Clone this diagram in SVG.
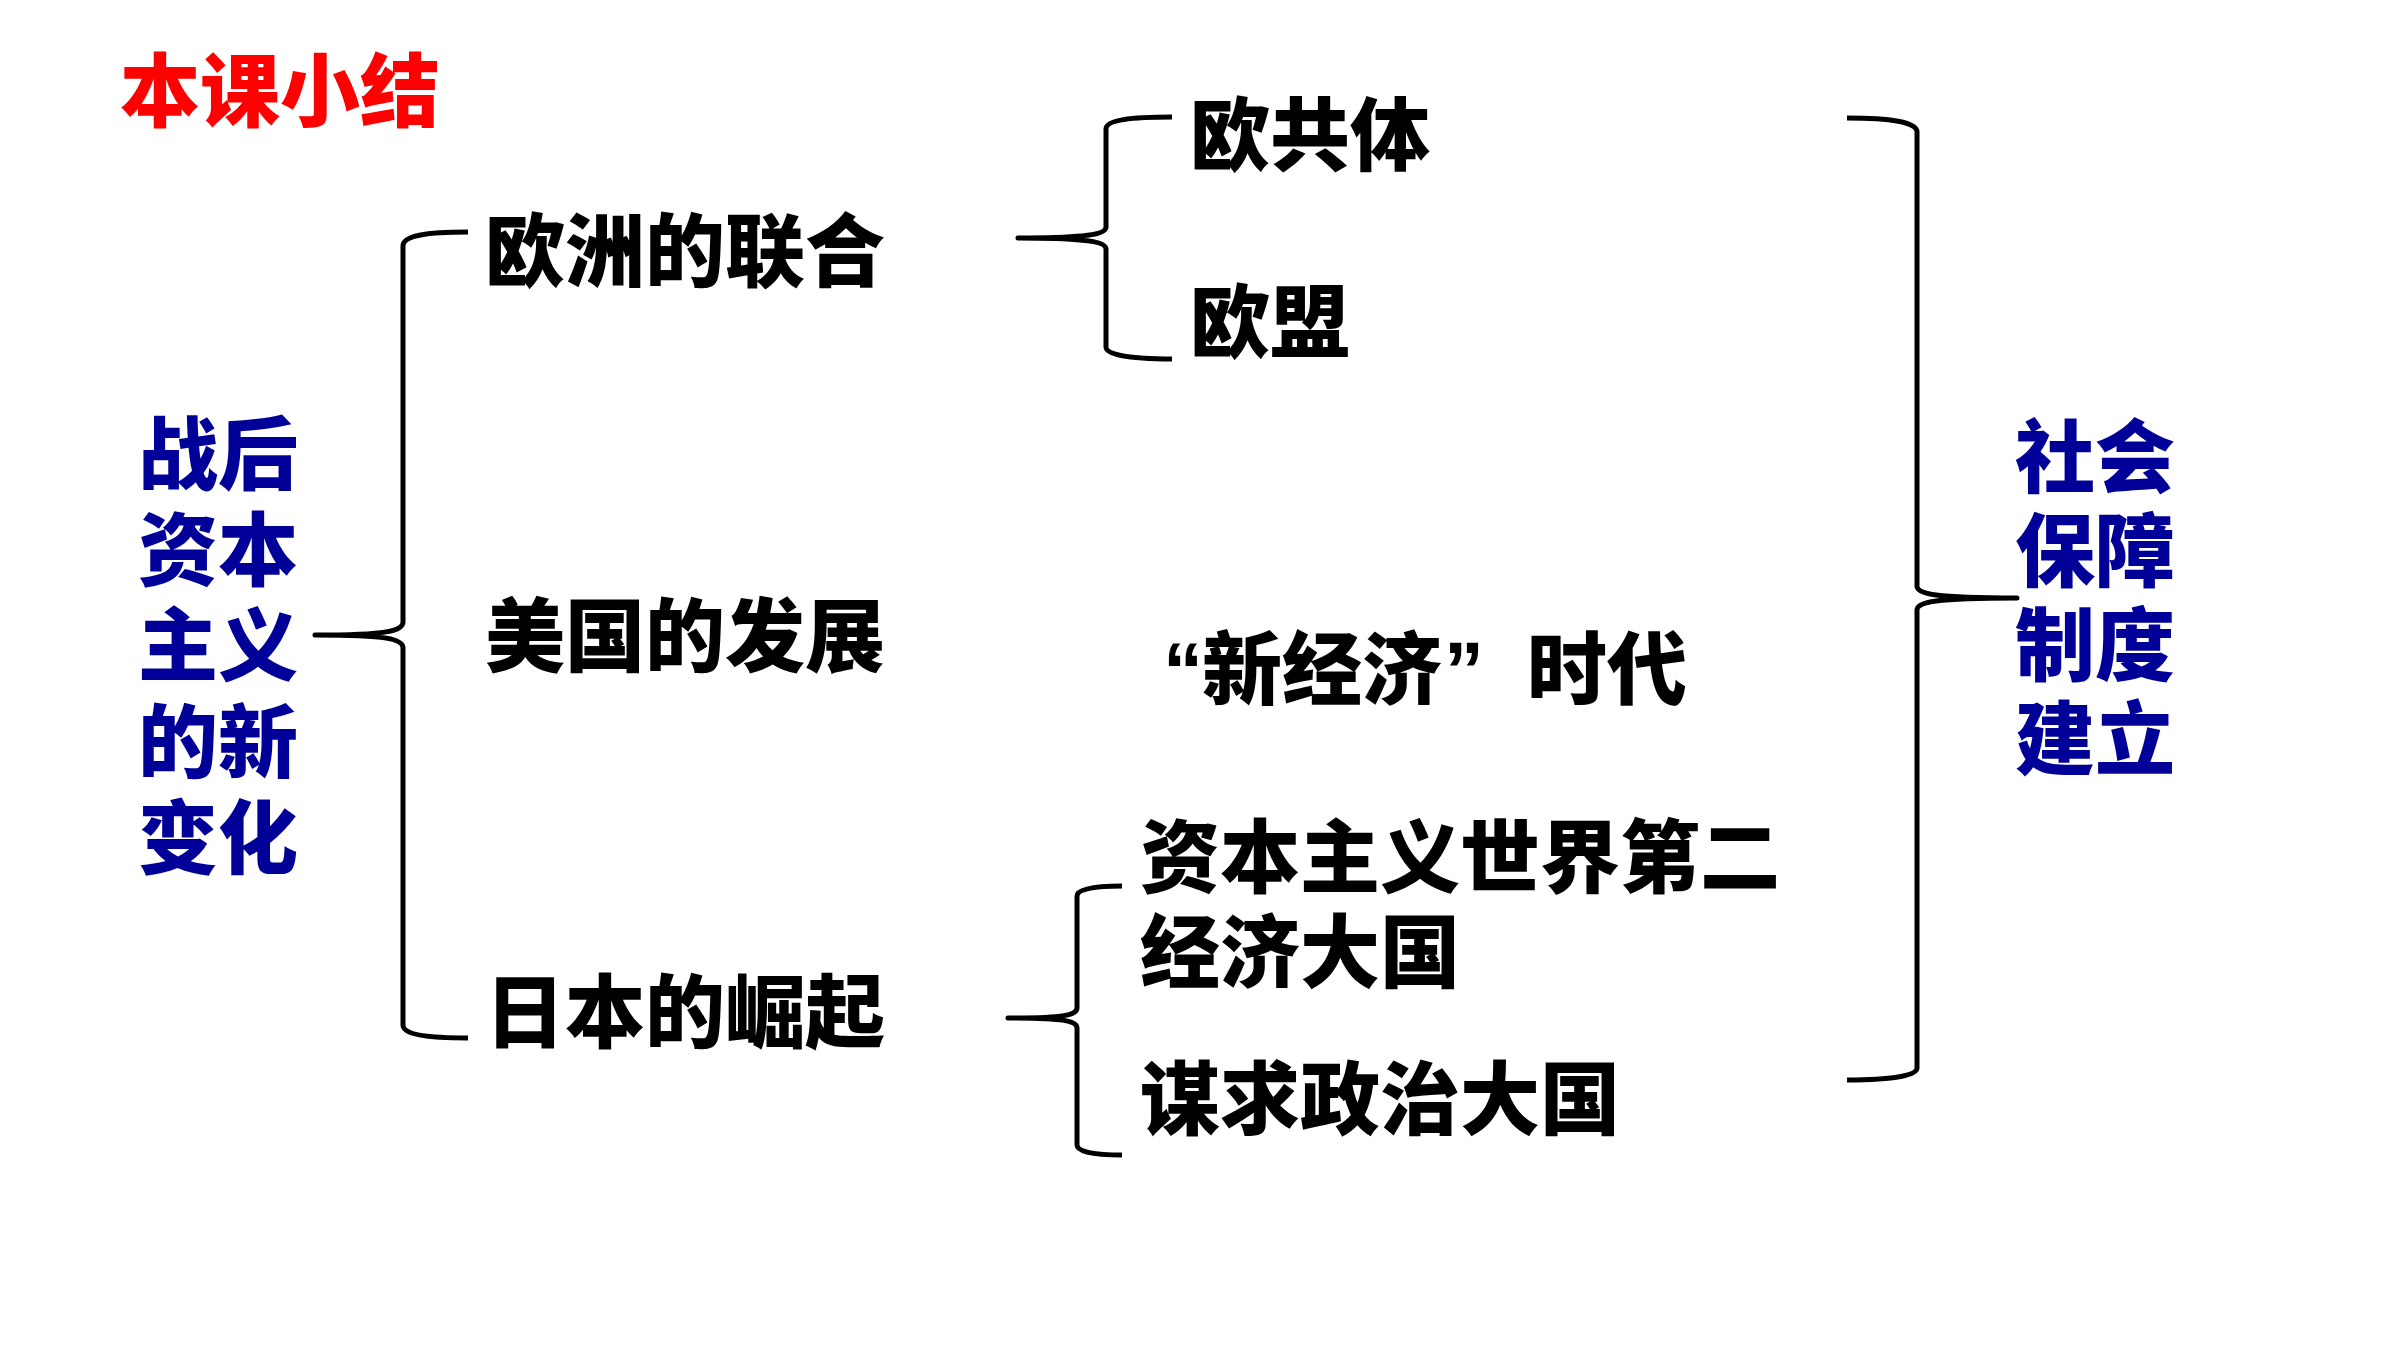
<svg xmlns="http://www.w3.org/2000/svg" width="2400" height="1350" viewBox="0 0 2400 1350">
<style>
  .t { font-family: "Noto Sans CJK SC", "Microsoft YaHei", sans-serif; font-weight: 900; font-size: 80px; }
  .blk { fill: #000000; }
  .blue { fill: #000099; }
  .red { fill: #FF0000; }
  .q { font-family: "Liberation Sans", Arial, sans-serif; font-weight: 700; }
  .brace { fill: none; stroke: #000000; stroke-width: 5; stroke-linecap: butt; stroke-linejoin: round; }
</style>
<rect x="0" y="0" width="2400" height="1350" fill="#FFFFFF"/>

<g id="connectors">
  <!-- main left brace -->
  <path class="brace" d="M 468,232 C 425,232 403,236 403,246 L 403,622 C 403,631 388,635 315,635 C 388,635 403,639 403,648 L 403,1025 C 403,1034 425,1038 468,1038"/>
  <!-- Europe brace -->
  <path class="brace" d="M 1172,117 C 1130,117 1106,120 1106,129 L 1106,227 C 1106,234 1090,238 1018,238 C 1090,238 1106,242 1106,249 L 1106,347 C 1106,355 1130,359 1172,359"/>
  <!-- Japan brace -->
  <path class="brace" d="M 1122,886 C 1095,886 1077,889 1077,896 L 1077,1008 C 1077,1015 1065,1018 1008,1018 C 1065,1018 1077,1021 1077,1028 L 1077,1145 C 1077,1152 1095,1155 1122,1155"/>
  <!-- right brace -->
  <path class="brace" d="M 1847,118 C 1890,118 1917,122 1917,132 L 1917,586 C 1917,594 1935,598 2017,598 C 1935,598 1917,602 1917,610 L 1917,1068 C 1917,1076 1890,1080 1847,1080"/>
</g>

<g id="title">
  <text class="t red" x="120" y="120">本课小结</text>
</g>

<g id="node-main">
  <text class="t blue" x="138" y="483">战后</text>
  <text class="t blue" x="138" y="579">资本</text>
  <text class="t blue" x="138" y="674">主义</text>
  <text class="t blue" x="138" y="771">的新</text>
  <text class="t blue" x="138" y="867">变化</text>
</g>

<g id="node-europe">
  <text class="t blk" x="485" y="280">欧洲的联合</text>
</g>
<g id="node-usa">
  <text class="t blk" x="485" y="665">美国的发展</text>
</g>
<g id="node-japan">
  <text class="t blk" x="485" y="1041">日本的崛起</text>
</g>

<g id="node-ec">
  <text class="t blk" x="1190" y="164">欧共体</text>
</g>
<g id="node-eu">
  <text class="t blk" x="1190" y="351">欧盟</text>
</g>

<g id="node-neweconomy">
  <text class="t blk" y="698"><tspan class="q" x="1163">“</tspan><tspan x="1202">新经济</tspan><tspan class="q" x="1444">”</tspan><tspan x="1527">时代</tspan></text>
</g>

<g id="node-second">
  <text class="t blk" x="1140" y="886">资本主义世界第二</text>
  <text class="t blk" x="1140" y="981">经济大国</text>
</g>
<g id="node-political">
  <text class="t blk" x="1140" y="1128">谋求政治大国</text>
</g>

<g id="node-social">
  <text class="t blue" x="2015" y="486">社会</text>
  <text class="t blue" x="2015" y="580">保障</text>
  <text class="t blue" x="2015" y="674">制度</text>
  <text class="t blue" x="2015" y="768">建立</text>
</g>
</svg>
